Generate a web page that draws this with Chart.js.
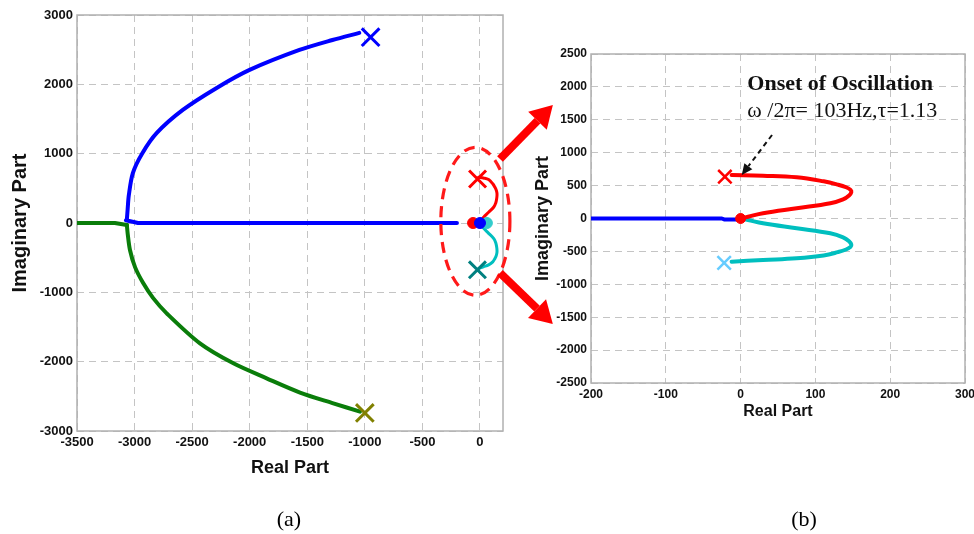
<!DOCTYPE html>
<html>
<head>
<meta charset="utf-8">
<script src="https://cdn.jsdelivr.net/npm/chart.js@4/dist/chart.umd.min.js"></script>
<style>
  html, body { margin: 0; padding: 0; background: #fff; }
  #wrap { position: relative; width: 974px; height: 534px; overflow: hidden; }
  #wrap canvas { position: absolute; left: 0; top: 0; }
  .cap { position: absolute; top: 507px; width: 60px; text-align: center;
         font: 22px/24px "Liberation Serif", "Times New Roman", serif; color: #000; }
</style>
</head>
<body>
<div id="wrap">
  <canvas id="viewA" width="974" height="534"></canvas>
  <canvas id="viewB" width="974" height="534"></canvas>
  <div class="cap" style="left:259px">(a)</div>
  <div class="cap" style="left:774px">(b)</div>
</div>
<script>
// ---------- view (a): full root locus ----------
const wideXTicks = [-3500, -3000, -2500, -2000, -1500, -1000, -500, 0];
const wideYTicks = [-3000, -2000, -1000, 0, 1000, 2000, 3000];

// upper complex branch (blue), from its pole towards the real-axis break-in
const upperBranchX = [-1048, -1281, -1568, -2001, -2287, -2581, -2807, -2935, -3015, -3050, -3060, -3067];
const upperBranchY = [2742, 2640, 2496, 2208, 1948, 1631, 1299, 1000, 720, 400, 200, 50];
// real-axis segment of the blue locus
const realAxisX = [-3067, -3075, -2970, -200];
const realAxisY = [50, 40, 0, 0];
// lower complex branch (green): flat real-axis run, then the bend downwards
const lowerBranchX = [-3500, -3171, -3067, -3060, -3040, -2995, -2924, -2840, -2721, -2432, -2142, -1853, -1563, -1274, -1042];
const lowerBranchY = [0, 0, -30, -150, -389, -640, -870, -1080, -1303, -1736, -2024, -2240, -2445, -2601, -2721];
// open-loop poles of the fast pair
const fastPoleX = [-950, -1000];
const fastPoleY = [2680, -2740];
// zeros clustered at the origin (red, cyan, blue)
const zeroX = [-60, 60, 0];
const zeroY = [0, 0, 0];

// ---------- view (b): zoom around the origin ----------
const zoomXTicks = [-200, -100, 0, 100, 200, 300];
const zoomYTicks = [-2500, -2000, -1500, -1000, -500, 0, 500, 1000, 1500, 2000, 2500];

// oscillatory pair: upper (red) and lower (cyan) branches
const upperModeX = [-12, 30, 75, 111, 130, 141, 147, 148, 145, 137, 120, 75, 30, 10, 0];
const upperModeY = [661, 650, 626, 565, 515, 475, 435, 400, 350, 290, 231, 155, 79, 27, 0];
const lowerModeX = [-12, 30, 75, 111, 130, 141, 147, 148, 145, 137, 120, 75, 30, 10, 0];
const lowerModeY = [-657, -631, -605, -561, -511, -471, -431, -396, -346, -286, -225, -149, -73, -23, 0];
const slowPoleX = [-21, -22];
const slowPoleY = [635, -675];
// slow real-axis locus (blue)
const slowAxisX = [-200, -25, -22, 0];
const slowAxisY = [0, 0, -14, -14];

// callout geometry, in data units of each view
const zoomRing = { cx: -40, cy: 25, rx: 300, ry: 1067 };
const linkTails = [{ x: 174, y: 923 }, { x: 174, y: -721 }];     // view (a)
const linkTips = [{ x: -251, y: 1725 }, { x: -251, y: -1603 }];  // view (b)
const onsetNote = { x: 9, y1: 2044, y2: 1634 };
const onsetArrow = { x0: 42, y0: 1269, x1: 1.5, y1: 661 };

const SANS = '"Liberation Sans", Arial, Helvetica, sans-serif';
const SERIF = '"Liberation Serif", "Times New Roman", serif';
const GRID = '#c4c4c4';
const FRAME = '#b0b0b0';

const pts = (xs, ys) => xs.map((x, i) => ({ x, y: ys[i] }));

function curve(xs, ys, color, width, tension) {
  return { data: pts(xs, ys), showLine: true, borderColor: color, borderWidth: width,
           pointRadius: 0, tension: tension, fill: false, borderCapStyle: 'round', borderJoinStyle: 'round' };
}
function markers(xs, ys, colors, style, radius, width) {
  return { data: pts(xs, ys), showLine: false, pointStyle: style, pointRadius: radius,
           pointBorderWidth: width, pointBorderColor: colors, pointBackgroundColor: colors };
}

function axis(min, max, tickList, titleText, titleSize, tickSize, fitProp, fitSize) {
  return {
    type: 'linear', min, max,
    afterBuildTicks: s => { s.ticks = tickList.map(v => ({ value: v })); },
    afterFit: s => {
      s[fitProp] = fitSize;
      // edge labels may spill past the plot frame without shrinking it
      s.paddingLeft = s.paddingRight = s.paddingTop = s.paddingBottom = 0;
    },
    grid: { color: GRID, lineWidth: 1, drawTicks: false },
    border: { display: false, dash: [7, 5] },
    ticks: { font: { family: SANS, size: tickSize, weight: 'bold' }, color: '#111', padding: 4,
             maxRotation: 0, autoSkip: false, callback: v => String(v) },
    title: { display: true, text: titleText, color: '#111',
             font: { family: SANS, size: titleSize, weight: 'bold' }, padding: { top: 0, bottom: 0 } }
  };
}

const framePlugin = {
  id: 'frame',
  beforeDatasetsDraw(chart) {
    const { ctx, chartArea: a } = chart;
    ctx.save();
    ctx.strokeStyle = FRAME;
    ctx.lineWidth = 1.5;
    ctx.strokeRect(a.left, a.top, a.right - a.left, a.bottom - a.top);
    ctx.restore();
  }
};

function fatArrow(ctx, x0, y0, x1, y1, w, hl, hw) {
  const a = Math.atan2(y1 - y0, x1 - x0);
  const bx = x1 - hl * Math.cos(a), by = y1 - hl * Math.sin(a);
  ctx.beginPath(); ctx.moveTo(x0, y0); ctx.lineTo(bx, by);
  ctx.lineWidth = w; ctx.lineCap = 'butt'; ctx.stroke();
  ctx.beginPath(); ctx.moveTo(x1, y1);
  ctx.lineTo(bx + hw * Math.sin(a), by - hw * Math.cos(a));
  ctx.lineTo(bx - hw * Math.sin(a), by + hw * Math.cos(a));
  ctx.closePath(); ctx.fill();
}

// dashed ring around the origin cluster in view (a)
const ringPlugin = {
  id: 'ring',
  afterDraw(chart) {
    const { ctx, scales: { x, y } } = chart;
    const cx = x.getPixelForValue(zoomRing.cx), cy = y.getPixelForValue(zoomRing.cy);
    const rx = Math.abs(x.getPixelForValue(zoomRing.cx + zoomRing.rx) - cx);
    const ry = Math.abs(y.getPixelForValue(zoomRing.cy + zoomRing.ry) - cy);
    ctx.save();
    ctx.strokeStyle = '#ff1a1a';
    ctx.lineWidth = 3.2;
    ctx.setLineDash([11, 7]);
    ctx.beginPath();
    ctx.ellipse(cx, cy, rx, ry, 0, 0, Math.PI * 2);
    ctx.stroke();
    ctx.restore();
  }
};

const chartA = new Chart(document.getElementById('viewA'), {
  type: 'scatter',
  data: {
    datasets: [
      markers(zeroX.slice(2), zeroY.slice(2), '#0000ff', 'circle', 5.5, 1),
      markers(zeroX.slice(0, 2), zeroY.slice(0, 2), ['#ff0000', '#33cccc'], 'circle', 5.5, 1),
      markers(fastPoleX, fastPoleY, ['#0000ff', '#808000'], 'crossRot', 12.5, 3),
      markers(slowPoleX, slowPoleY, ['#ff0000', '#008080'], 'crossRot', 12, 3),
      curve(upperModeX, upperModeY, '#ff0000', 3, 0.4),
      curve(lowerModeX, lowerModeY, '#00bfbf', 3, 0.4),
      curve(realAxisX, realAxisY, '#0000ff', 4, 0),
      curve(upperBranchX, upperBranchY, '#0000ff', 4, 0.3),
      curve(lowerBranchX.slice(0, 3), lowerBranchY.slice(0, 3), '#0a7d0a', 4, 0),
      curve(lowerBranchX.slice(2), lowerBranchY.slice(2), '#0a7d0a', 4, 0.3)
    ]
  },
  options: {
    responsive: false, animation: false, devicePixelRatio: 1,
    layout: { padding: { left: 8, right: 471, top: 15, bottom: 55 }, autoPadding: false },
    plugins: { legend: { display: false }, tooltip: { enabled: false } },
    scales: {
      x: axis(-3500, 200, wideXTicks, 'Real Part', 18, 13, 'height', 48),
      y: axis(-3000, 3000, wideYTicks, 'Imaginary Part', 20, 13, 'width', 69)
    }
  },
  plugins: [framePlugin, ringPlugin]
});

// links from the ring in (a) to the zoomed view (b), plus the onset callout
const calloutPlugin = {
  id: 'callout',
  afterDraw(chart) {
    const { ctx, scales: { x, y } } = chart;
    const ax = chartA.scales.x, ay = chartA.scales.y;
    ctx.save();
    ctx.strokeStyle = '#ff0000';
    ctx.fillStyle = '#ff0000';
    linkTails.forEach((t, i) => {
      fatArrow(ctx, ax.getPixelForValue(t.x), ay.getPixelForValue(t.y),
               x.getPixelForValue(linkTips[i].x), y.getPixelForValue(linkTips[i].y), 8, 22, 13);
    });

    // onset text
    ctx.fillStyle = '#111';
    ctx.textAlign = 'left';
    ctx.textBaseline = 'middle';
    const tx = x.getPixelForValue(onsetNote.x);
    ctx.font = 'bold 22px ' + SERIF;
    ctx.fillText('Onset of Oscillation', tx, y.getPixelForValue(onsetNote.y1));
    ctx.font = '22px ' + SERIF;
    ctx.fillText('ω /2π= 103Hz,τ=1.13', tx, y.getPixelForValue(onsetNote.y2));

    // dashed pointer to the crossing point
    const x0 = x.getPixelForValue(onsetArrow.x0), y0 = y.getPixelForValue(onsetArrow.y0);
    const x1 = x.getPixelForValue(onsetArrow.x1), y1 = y.getPixelForValue(onsetArrow.y1);
    const a = Math.atan2(y1 - y0, x1 - x0);
    const hl = 11, hw = 5;
    const bx = x1 - hl * Math.cos(a), by = y1 - hl * Math.sin(a);
    ctx.strokeStyle = '#111';
    ctx.fillStyle = '#111';
    ctx.lineWidth = 2;
    ctx.setLineDash([5, 4]);
    ctx.beginPath(); ctx.moveTo(x0, y0); ctx.lineTo(bx, by); ctx.stroke();
    ctx.setLineDash([]);
    ctx.beginPath(); ctx.moveTo(x1, y1);
    ctx.lineTo(bx + hw * Math.sin(a), by - hw * Math.cos(a));
    ctx.lineTo(bx - hw * Math.sin(a), by + hw * Math.cos(a));
    ctx.closePath(); ctx.fill();
    ctx.restore();
  }
};

const chartB = new Chart(document.getElementById('viewB'), {
  type: 'scatter',
  data: {
    datasets: [
      markers([0], [0], '#ff0000', 'circle', 5, 1),
      markers(slowPoleX, slowPoleY, ['#ff0000', '#66ccff'], 'crossRot', 9.5, 2.5),
      curve(upperModeX, upperModeY, '#ff0000', 4, 0.4),
      curve(lowerModeX, lowerModeY, '#00bfbf', 4, 0.4),
      curve(slowAxisX, slowAxisY, '#0000ff', 4, 0)
    ]
  },
  options: {
    responsive: false, animation: false, devicePixelRatio: 1,
    layout: { padding: { left: 532, right: 9, top: 54, bottom: 113 }, autoPadding: false },
    plugins: { legend: { display: false }, tooltip: { enabled: false } },
    scales: {
      x: axis(-200, 300, zoomXTicks, 'Real Part', 16, 12, 'height', 38),
      y: axis(-2500, 2500, zoomYTicks, 'Imaginary Part', 18, 12, 'width', 59)
    }
  },
  plugins: [framePlugin, calloutPlugin]
});
</script>
</body>
</html>
